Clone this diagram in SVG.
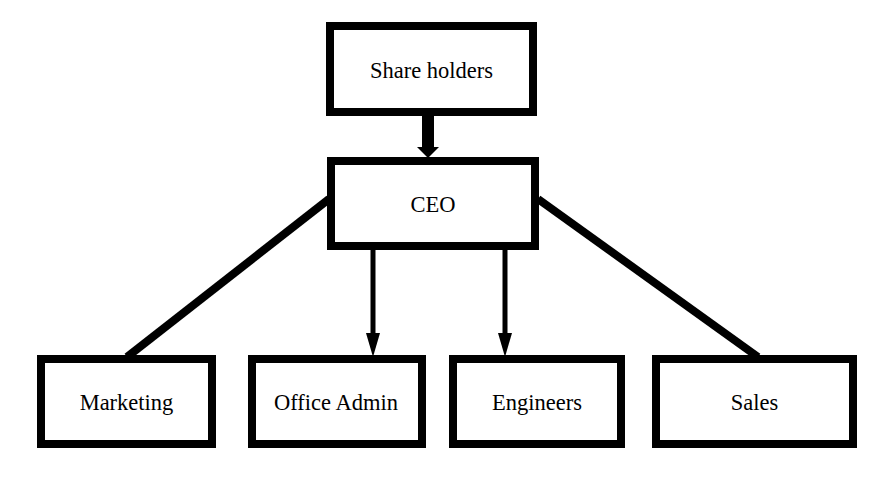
<svg xmlns="http://www.w3.org/2000/svg" width="884" height="490" viewBox="0 0 884 490">
<style>
.box{fill:#fff;stroke:#000;stroke-width:8}
.lbl{font-family:"Liberation Serif","Times New Roman",serif;font-size:22.5px;fill:#000;text-anchor:middle}
.thick{stroke:#000;stroke-width:8;fill:none}
.thin{stroke:#000;stroke-width:5;fill:none}
.head{fill:#000}
</style>
<rect width="884" height="490" fill="#fff"/>
<g id="connectors">
<rect x="422" y="112" width="12" height="37" class="head"/>
<polygon points="417,147 439,147 428,158" class="head"/>
<line x1="329" y1="199" x2="127" y2="357" class="thick"/>
<line x1="538" y1="199" x2="758" y2="357" class="thick"/>
<line x1="373" y1="248" x2="373" y2="340" class="thin"/>
<polygon points="366,333 380,333 373,357" class="head"/>
<line x1="505" y1="248" x2="505" y2="340" class="thin"/>
<polygon points="498,333 512,333 505,357" class="head"/>
</g>
<g id="shareholders">
<rect x="330" y="26" width="203" height="86" class="box"/>
<text x="431.5" y="78" class="lbl">Share holders</text>
</g>
<g id="ceo">
<rect x="331" y="161" width="204" height="85" class="box"/>
<text x="433" y="211.5" class="lbl">CEO</text>
</g>
<g id="marketing">
<rect x="41" y="359" width="171" height="85" class="box"/>
<text x="126.5" y="410" class="lbl">Marketing</text>
</g>
<g id="officeadmin">
<rect x="252" y="359" width="170" height="85" class="box"/>
<text x="336" y="410" class="lbl">Office Admin</text>
</g>
<g id="engineers">
<rect x="453" y="359" width="168" height="85" class="box"/>
<text x="537" y="410" class="lbl">Engineers</text>
</g>
<g id="sales">
<rect x="656" y="359" width="197" height="85" class="box"/>
<text x="754.5" y="410" class="lbl">Sales</text>
</g>
</svg>
